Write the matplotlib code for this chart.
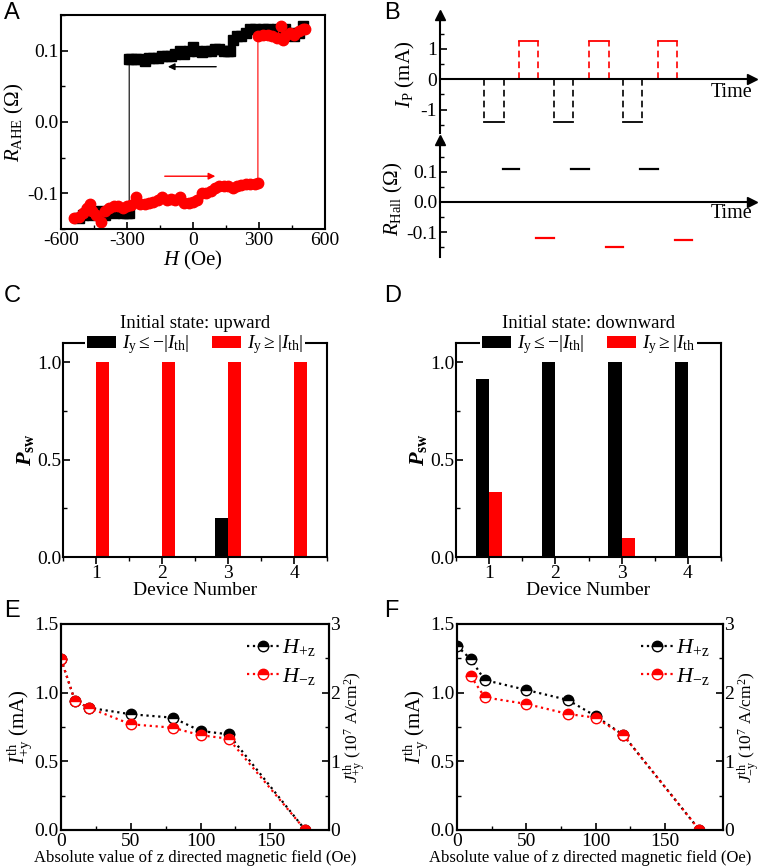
import matplotlib
matplotlib.use("Agg")

import matplotlib.pyplot as plt
from matplotlib.patches import Patch
from matplotlib.ticker import MultipleLocator, FormatStrFormatter
import numpy as np

plt.rcParams.update({
    "font.family": "serif",
    "font.serif": ["Liberation Serif", "DejaVu Serif"],
    "mathtext.fontset": "custom",
    "mathtext.rm": "Liberation Serif",
    "mathtext.it": "Liberation Serif:italic",
    "mathtext.bf": "Liberation Serif:bold",
    "mathtext.bfit": "Liberation Serif:italic:bold",
    "axes.unicode_minus": False,
    "axes.linewidth": 1.5,
    "xtick.major.width": 1.2,
    "ytick.major.width": 1.2,
    "xtick.minor.width": 1.0,
    "ytick.minor.width": 1.0,
})

# ---- A: hysteresis loop ----
h_down = [500, 480, 460, 440, 420, 400, 380, 360, 340, 320, 300, 280, 260, 240, 220,
          200, 180, 170, 160, 140, 120, 100, 80, 60, 40, 20, 0, -20, -40, -60, -80,
          -100, -120, -140, -160, -180, -200, -220, -240, -260, -280, -290, -290,
          -300, -320, -340, -360, -380, -400, -420, -440, -460, -480, -500, -520]
r_down = [0.135, 0.125, 0.12, 0.125, 0.13, 0.125, 0.13, 0.128, 0.13, 0.13, 0.128,
          0.13, 0.13, 0.125, 0.12, 0.12, 0.115, 0.1, 0.1, 0.1, 0.102, 0.103, 0.1,
          0.1, 0.098, 0.1, 0.105, 0.1, 0.095, 0.1, 0.095, 0.093, 0.093, 0.092, 0.09,
          0.09, 0.09, 0.085, 0.088, 0.088, 0.088, 0.088, -0.128, -0.128, -0.128,
          -0.125, -0.128, -0.125, -0.13, -0.125, -0.127, -0.13, -0.125, -0.13, -0.135]
h_up = [-540, -520, -500, -480, -470, -460, -440, -420, -400, -380, -360, -340, -320,
        -300, -280, -260, -240, -220, -200, -180, -160, -140, -120, -100, -80, -60,
        -40, -20, 0, 20, 40, 60, 80, 100, 120, 140, 160, 180, 200, 220, 240, 260,
        280, 295, 295, 320, 340, 360, 380, 400, 410, 420, 440, 460, 480, 500, 510]
r_up = [-0.135, -0.133, -0.128, -0.12, -0.115, -0.125, -0.13, -0.14, -0.125, -0.12,
        -0.118, -0.118, -0.12, -0.118, -0.117, -0.105, -0.115, -0.115, -0.113,
        -0.112, -0.11, -0.105, -0.11, -0.108, -0.11, -0.105, -0.113, -0.113, -0.112,
        -0.11, -0.1, -0.1, -0.097, -0.092, -0.09, -0.09, -0.09, -0.092, -0.09,
        -0.088, -0.087, -0.087, -0.087, -0.085, 0.12, 0.122, 0.122, 0.12, 0.118,
        0.135, 0.115, 0.12, 0.125, 0.122, 0.128, 0.13, 0.13]

# ---- B: pulse sequence ----
neg_pulse_t = [2.3, 5.9, 9.5]
pos_pulse_t = [4.1, 7.75, 11.3]
pulse_width = 1.0
neg_amp = -1.4
pos_amp = 1.25
hall_high_t0 = [3.25, 6.8, 10.4]
hall_high_t1 = [4.1, 7.75, 11.3]
hall_high_r = [0.11, 0.11, 0.11]
hall_low_t0 = [5.0, 8.6, 12.2]
hall_low_t1 = [5.9, 9.5, 13.1]
hall_low_r = [-0.121, -0.151, -0.127]

# ---- C/D: switching probability ----
devices = [1, 2, 3, 4]
psw_up_neg = [0.0, 0.0, 0.2, 0.0]
psw_up_pos = [1.0, 1.0, 1.0, 1.0]
psw_down_neg = [0.917, 1.0, 1.0, 1.0]
psw_down_pos = [0.333, 0.0, 0.1, 0.0]

# ---- E/F: threshold current vs Hz ----
e_hpz_x = [0, 10, 20, 50, 80, 100, 120, 175]
e_hpz_y = [1.245, 0.94, 0.89, 0.843, 0.818, 0.721, 0.697, 0.0]
e_hmz_x = [0, 10, 20, 50, 80, 100, 120, 175]
e_hmz_y = [1.245, 0.94, 0.89, 0.77, 0.745, 0.69, 0.665, 0.0]
f_hpz_x = [0, 10, 20, 50, 80, 100, 120, 175]
f_hpz_y = [1.34, 1.243, 1.092, 1.02, 0.947, 0.83, 0.692, 0.0]
f_hmz_x = [10, 20, 50, 80, 100, 120, 175]
f_hmz_y = [1.12, 0.966, 0.918, 0.845, 0.818, 0.692, 0.0]

W, H = 762, 867
fig = plt.figure(figsize=(W / 100, H / 100), dpi=100)


def px_axes(l, t, r, b):
    return fig.add_axes([l / W, 1 - b / H, (r - l) / W, (b - t) / H])


def letter(x, y, s):
    fig.text(x / W, 1 - y / H, s, fontsize=17, family="Liberation Sans",
             ha="left", va="top")


def ticks(ax, size, pad=2):
    ax.tick_params(which="both", labelsize=size, pad=pad)
    ax.tick_params(which="major", length=5)
    ax.tick_params(which="minor", length=3)


TS = 14  # tick font size

# ================= A =================
ax = px_axes(61, 15, 325, 229)
ax.plot(h_down, r_down, "s-", color="black", ms=7, lw=0.8)
ax.plot(h_up, r_up, "o-", color="red", ms=7.5, lw=0.8)
ax.annotate("", xy=(-127, 0.0775), xytext=(118, 0.0775),
            arrowprops=dict(arrowstyle="-|>", color="black", lw=1.0, mutation_scale=10))
ax.annotate("", xy=(114, -0.076), xytext=(-141, -0.076),
            arrowprops=dict(arrowstyle="-|>", color="red", lw=1.0, mutation_scale=10))
ax.set_xlim(-600, 600)
ax.set_ylim(-0.15, 0.15)
ax.xaxis.set_major_locator(MultipleLocator(300))
ax.xaxis.set_minor_locator(MultipleLocator(150))
ax.yaxis.set_major_locator(MultipleLocator(0.1))
ax.yaxis.set_minor_locator(MultipleLocator(0.05))
ax.yaxis.set_major_formatter(FormatStrFormatter("%.1f"))
ax.tick_params(which="both", direction="in")
ticks(ax, TS)
ax.set_xlabel(r"$H$ (Oe)", fontsize=15, labelpad=0)
ax.set_ylabel(r"$R_{\mathrm{AHE}}$ (Ω)", fontsize=15, labelpad=1)
letter(4, 2, "A")


# ================= B =================
def arrow_axes(ax):
    for s in ["top", "right"]:
        ax.spines[s].set_visible(False)
    ax.spines["bottom"].set_position(("data", 0))
    ax.set_xticks([])
    ax.plot(1, 0, ">", color="black", ms=7, transform=ax.get_yaxis_transform(),
            clip_on=False)
    ax.plot(0, 1, "^", color="black", ms=7, transform=ax.get_xaxis_transform(),
            clip_on=False)
    ax.tick_params(which="both", direction="in")
    ticks(ax, TS)


axb = px_axes(440, 15, 752, 133)
axb.set_xlim(0, 16.2)
axb.set_ylim(-1.77, 2.12)
arrow_axes(axb)
dash = (0, (4, 2.5))
for t in neg_pulse_t:
    axb.plot([t, t], [0, neg_amp], color="black", ls=dash, lw=1.2)
    axb.plot([t + pulse_width] * 2, [0, neg_amp], color="black", ls=dash, lw=1.2)
    axb.plot([t, t + pulse_width], [neg_amp, neg_amp], color="black", lw=1.3)
for t in pos_pulse_t:
    axb.plot([t, t], [0, pos_amp], color="red", ls=dash, lw=1.2)
    axb.plot([t + pulse_width] * 2, [0, pos_amp], color="red", ls=dash, lw=1.2)
    axb.plot([t, t + pulse_width], [pos_amp, pos_amp], color="red", lw=1.3)
axb.set_yticks([-1, 0, 1])
axb.yaxis.set_minor_locator(MultipleLocator(0.5))
axb.set_ylabel(r"$I_{\mathrm{P}}$ (mA)", fontsize=15, labelpad=3)
axb.text(1.0, -0.45, "Time", transform=axb.get_yaxis_transform(), ha="right",
         va="center", fontsize=14.5)

axh = px_axes(440, 140, 752, 257)
axh.set_xlim(0, 16.2)
axh.set_ylim(-0.183, 0.206)
arrow_axes(axh)
for t0, t1, r in zip(hall_high_t0, hall_high_t1, hall_high_r):
    axh.plot([t0, t1], [r, r], color="black", lw=1.6)
for t0, t1, r in zip(hall_low_t0, hall_low_t1, hall_low_r):
    axh.plot([t0, t1], [r, r], color="red", lw=1.6)
axh.set_yticks([-0.1, 0.0, 0.1])
axh.yaxis.set_major_formatter(FormatStrFormatter("%.1f"))
axh.yaxis.set_minor_locator(MultipleLocator(0.05))
axh.set_ylabel(r"$R_{\mathrm{Hall}}$ (Ω)", fontsize=15, labelpad=1)
axh.text(1.0, -0.04, "Time", transform=axh.get_yaxis_transform(), ha="right",
         va="center", fontsize=14.5)
letter(384, 2, "B")


# ================= C / D =================
def psw_panel(ax, neg, pos, title, lab_pos):
    x = np.array(devices)
    ax.bar(x - 0.1, neg, 0.2, color="black")
    ax.bar(x + 0.1, pos, 0.2, color="red")
    ax.set_xlim(0.5, 4.5)
    ax.set_ylim(0, 1.1)
    ax.set_xticks(devices)
    ax.xaxis.set_minor_locator(MultipleLocator(0.5))
    ax.yaxis.set_major_locator(MultipleLocator(0.5))
    ax.yaxis.set_minor_locator(MultipleLocator(0.25))
    ax.yaxis.set_major_formatter(FormatStrFormatter("%.1f"))
    ax.tick_params(axis="x", which="both", direction="out")
    ax.tick_params(axis="y", which="both", direction="in")
    ticks(ax, TS, pad=1)
    ax.set_xlabel("Device Number", fontsize=14, labelpad=0)
    ax.set_ylabel(r"$\mathbfit{P}_{\mathbf{sw}}$", fontsize=16, labelpad=1)
    handles = [Patch(facecolor="black"), Patch(facecolor="red")]
    leg = ax.legend(handles, [r"$I_{\mathrm{y}} \leq {-}|I_{\mathrm{th}}|$", lab_pos],
                    ncol=2, loc="upper center", bbox_to_anchor=(0.5, 1.14),
                    fontsize=14, title=title, title_fontsize=13.5,
                    frameon=True, facecolor="white", edgecolor="none",
                    framealpha=1, fancybox=False, handlelength=1.5,
                    handleheight=0.6, handletextpad=0.3, columnspacing=1.2,
                    borderpad=0.1, borderaxespad=0, labelspacing=0.2)
    leg.get_frame().set_linewidth(0)
    leg._legend_box.sep = 1


axc = px_axes(63, 343, 327, 557)
psw_panel(axc, psw_up_neg, psw_up_pos, "Initial state: upward",
          r"$I_{\mathrm{y}} \geq |I_{\mathrm{th}}|$")
letter(4, 285, "C")

axd = px_axes(456, 343, 721, 557)
psw_panel(axd, psw_down_neg, psw_down_pos, "Initial state: downward",
          r"$I_{\mathrm{y}} \geq |I_{\mathrm{th}}$")
letter(384, 285, "D")


# ================= E / F =================
def ith_panel(ax, xp, yp, xm, ym, sign):
    ax.plot(xp, yp, ls=":", lw=1.6, color="black", marker="o", ms=7.5,
            fillstyle="top", mfc="black", mfcalt="white", mec="black", mew=1.0,
            label=r"$H_{+\mathrm{z}}$")
    ax.plot(xm, ym, ls=":", lw=1.6, color="red", marker="o", ms=7.5,
            fillstyle="top", mfc="red", mfcalt="white", mec="red", mew=1.0,
            label=r"$H_{-\mathrm{z}}$")
    ax.set_xlim(0, 192)
    ax.set_ylim(0, 1.5)
    ax.xaxis.set_major_locator(MultipleLocator(50))
    ax.xaxis.set_minor_locator(MultipleLocator(25))
    ax.yaxis.set_major_locator(MultipleLocator(0.5))
    ax.yaxis.set_minor_locator(MultipleLocator(0.25))
    ax.yaxis.set_major_formatter(FormatStrFormatter("%.1f"))
    ax.tick_params(which="both", direction="in")
    ticks(ax, 14)
    ax.set_xlabel("Absolute value of z directed magnetic field (Oe)", fontsize=12,
                  labelpad=0)
    ax.set_ylabel(r"$I^{\mathrm{th}}_{%s\mathrm{y}}$ (mA)" % sign, fontsize=15,
                  labelpad=0)
    ax.legend(loc="upper right", frameon=False, fontsize=16, handlelength=1.5,
              handletextpad=0.1, labelspacing=0.35, borderaxespad=0.2)
    ax2 = ax.twinx()
    ax2.set_ylim(0, 3)
    ax2.yaxis.set_major_locator(MultipleLocator(1))
    ax2.yaxis.set_minor_locator(MultipleLocator(0.5))
    ax2.tick_params(which="both", direction="in")
    ticks(ax2, 14, pad=1)
    ax2.spines[:].set_linewidth(1.5)
    ax2.set_ylabel(r"$J^{\mathrm{th}}_{%s\mathrm{y}}$ (10$^{7}$ A/cm$^{2}$)" % sign,
                   fontsize=12.5, labelpad=1)


axe = px_axes(61, 624, 329, 830)
ith_panel(axe, e_hpz_x, e_hpz_y, e_hmz_x, e_hmz_y, "+")
letter(4, 600, "E")

axf = px_axes(457, 624, 723, 830)
ith_panel(axf, f_hpz_x, f_hpz_y, f_hmz_x, f_hmz_y, "-")
letter(384, 600, "F")

fig.savefig("out.png", dpi=100)
